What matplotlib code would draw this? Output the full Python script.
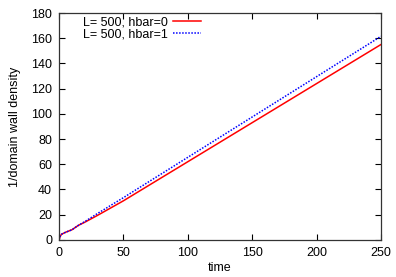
import matplotlib
matplotlib.use('Agg')
import matplotlib.pyplot as plt

plt.rcParams['font.family'] = ['Liberation Sans', 'DejaVu Sans']
plt.rcParams['font.size'] = 9

t_red = [0, 1, 2, 5, 10, 15, 20, 30, 50, 75, 100, 125, 150, 175, 200, 225, 250]
red = [0, 3, 4.5, 6, 8, 11.5, 14, 19.5, 31, 46.5, 62, 77.5, 93, 108.5, 124, 139.5, 155]
t_blue = [0, 1, 2, 5, 10, 15, 20, 30, 50, 75, 100, 125, 150, 175, 200, 225, 250]
blue = [0, 3, 4.5, 6, 8, 11.5, 14.5, 21, 33.5, 49.5, 65.5, 81.5, 97.5, 113.5, 129.5, 145.5, 161.5]

fig = plt.figure(figsize=(3.96, 2.77), dpi=100)
ax = fig.add_axes([0.149, 0.134, 0.813, 0.819])

ax.plot(t_red, red, color='#ff0000', lw=1.1, label='L= 500, hbar=0')
ax.plot(t_blue, blue, color='#0000ff', lw=1.1, ls=(0, (1, 1)), label='L= 500, hbar=1')

ax.set_xlim(0, 250)
ax.set_ylim(0, 180)
ax.set_xticks(range(0, 251, 50))
ax.set_yticks(range(0, 181, 20))
ax.tick_params(direction='in', top=True, right=True, length=4, width=0.8, pad=5)
for s in ax.spines.values():
    s.set_linewidth(0.9)
    s.set_color('#333333')

ax.set_xlabel('time', labelpad=2)
ax.set_ylabel('1/domain wall density', labelpad=7)

ax.legend(loc='upper left', bbox_to_anchor=(0.048, 1.025), frameon=False, markerfirst=False,
          handlelength=2.2, handletextpad=0.4, labelspacing=0.0, borderaxespad=0.3)

fig.savefig('out.png', dpi=100)
